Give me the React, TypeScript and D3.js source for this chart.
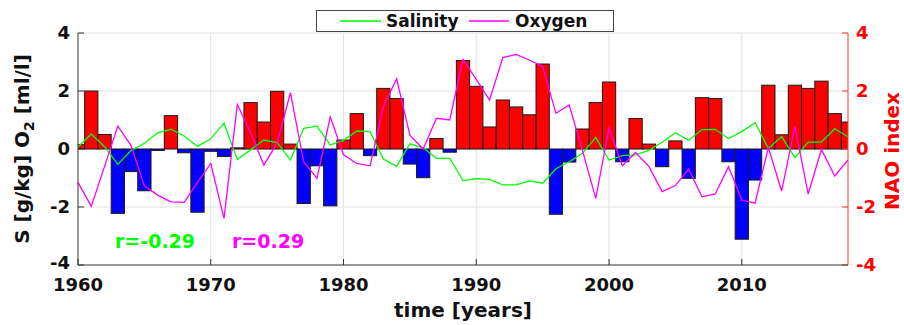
import * as d3 from 'd3'
import React, { useEffect, useRef } from 'react'

const years: number[] = d3.range(1960, 2019)

// NAO index (bars, right axis)
const nao: number[] = [
  0.15, 2.0, 0.5, -2.22, -0.78, -1.44, -0.05, 1.15, -0.13, -2.18,
  -0.08, -0.26, 0.04, 1.6, 0.93, 1.99, 0.17, -1.88, -0.58, -1.96,
  0.31, 1.22, -0.23, 2.09, 1.74, -0.52, -0.99, 0.36, -0.11, 3.05,
  2.16, 0.76, 1.69, 1.45, 1.18, 2.93, -2.25, -0.45, 0.69, 1.6,
  2.31, -0.44, 1.05, 0.17, -0.61, 0.28, -1.01, 1.77, 1.74, -0.44,
  -3.11, -1.07, 2.2, 0.49, 2.2, 2.09, 2.34, 1.22, 0.93
]

// salinity anomaly (green)
const salinity: number[] = [
  0.07, 0.52, 0.08, -0.53, -0.05, 0.2, 0.56, 0.68, 0.45, 0.09,
  0.35, 0.89, -0.36, -0.03, 0.31, 0.22, -0.38, 0.71, 0.79, 0.14,
  0.3, 0.62, 0.6, -0.35, -0.6, 0.18, 0.04, -0.32, -0.32, -1.09,
  -1.02, -1.05, -1.24, -1.24, -1.1, -1.18, -0.68, -0.44, -0.15, 0.4,
  -0.38, -0.23, -0.2, -0.05, 0.23, 0.56, 0.3, 0.67, 0.68, 0.36,
  0.6, 0.91, 0.02, 0.43, -0.3, 0.24, 0.24, 0.7, 0.42
]

// oxygen anomaly (magenta)
const oxygen: number[] = [
  -1.15, -1.98, -0.6, 0.79, 0.12, -1.27, -1.59, -1.82, -1.84, -1.15,
  -0.5, -2.39, 1.54, 0.56, -0.55, 0.2, 1.94, -0.44, -1.01, 1.11,
  -0.2, -0.5, -0.58, 1.46, 2.42, 0.48, 0.0, 1.06, 1.0, 3.09,
  2.4, 1.69, 3.15, 3.26, 3.07, 2.85, 1.23, 1.52, -0.05, -1.7,
  0.73, -0.58, -0.12, -0.6, -1.47, -1.26, -0.69, -1.65, -1.55, -0.61,
  -1.76, -1.87, 0.05, -1.45, 0.78, -1.55, -0.02, -0.93, -0.38
]

const xTicks: number[] = [1960, 1970, 1980, 1990, 2000, 2010]
const yTicks: number[] = [-4, -2, 0, 2, 4]

const FONT = '"DejaVu Sans", sans-serif'
const GREEN = '#00ff00'
const MAGENTA = '#ff00ff'

export default function App() {
  const ref = useRef<SVGSVGElement>(null)

  useEffect(() => {
    const svg = d3.select(ref.current)
    svg.selectAll('*').remove()

    const left = 78
    const right = 848
    const top = 33
    const bottom = 265

    const x = d3.scaleLinear().domain([1960, 2018]).range([left, right])
    const y = d3.scaleLinear().domain([-4, 4]).range([bottom, top])

    svg
      .append('clipPath')
      .attr('id', 'plot-clip')
      .append('rect')
      .attr('x', left)
      .attr('y', top)
      .attr('width', right - left)
      .attr('height', bottom - top)

    //grid
    const grid = svg.append('g').attr('stroke', '#e2e2e2').attr('stroke-width', 1)
    xTicks.slice(1).forEach((t) => {
      grid.append('line').attr('x1', x(t)).attr('x2', x(t)).attr('y1', top).attr('y2', bottom)
    })
    yTicks.slice(1).forEach((t) => {
      grid.append('line').attr('x1', left).attr('x2', right).attr('y1', y(t)).attr('y2', y(t))
    })

    //bars
    const bw = x(1961) - x(1960)
    svg
      .append('g')
      .attr('clip-path', 'url(#plot-clip)')
      .selectAll('rect')
      .data(years)
      .join('rect')
      .attr('x', (d) => x(d) - bw / 2)
      .attr('width', bw)
      .attr('y', (d, i) => y(Math.max(0, nao[i])))
      .attr('height', (d, i) => Math.abs(y(nao[i]) - y(0)))
      .attr('fill', (d, i) => (nao[i] >= 0 ? '#ff0000' : '#0000ff'))
      .attr('stroke', '#1a1a1a')
      .attr('stroke-width', 1)

    //lines
    const line = d3
      .line<number>()
      .x((d, i) => x(years[i]))
      .y((d) => y(d))

    svg
      .append('path')
      .attr('d', line(salinity))
      .attr('fill', 'none')
      .attr('stroke', GREEN)
      .attr('stroke-width', 1.3)

    svg
      .append('path')
      .attr('d', line(oxygen))
      .attr('fill', 'none')
      .attr('stroke', MAGENTA)
      .attr('stroke-width', 1.3)

    //left axis
    const axL = svg.append('g')
    axL.append('line').attr('x1', left).attr('x2', left).attr('y1', top).attr('y2', bottom).attr('stroke', '#333')
    yTicks.forEach((t) => {
      axL.append('line').attr('x1', left).attr('x2', left + 6).attr('y1', y(t)).attr('y2', y(t)).attr('stroke', '#333')
      axL
        .append('text')
        .attr('x', left - 8)
        .attr('y', y(t))
        .attr('dy', t === -4 ? '0.2em' : '0.36em')
        .attr('text-anchor', 'end')
        .attr('font-family', FONT)
        .attr('font-weight', 'bold')
        .attr('font-size', 18)
        .attr('fill', '#111')
        .text(t)
    })

    //right axis
    const axR = svg.append('g')
    axR.append('line').attr('x1', right).attr('x2', right).attr('y1', top).attr('y2', bottom).attr('stroke', '#ff3333')
    yTicks.forEach((t) => {
      axR.append('line').attr('x1', right - 6).attr('x2', right).attr('y1', y(t)).attr('y2', y(t)).attr('stroke', '#ff3333')
      axR
        .append('text')
        .attr('x', right + 8)
        .attr('y', y(t))
        .attr('dy', '0.36em')
        .attr('font-family', FONT)
        .attr('font-weight', 'bold')
        .attr('font-size', 18)
        .attr('fill', '#ff0000')
        .text(t)
    })

    //bottom axis
    const axB = svg.append('g')
    axB.append('line').attr('x1', left).attr('x2', right).attr('y1', bottom).attr('y2', bottom).attr('stroke', '#333')
    xTicks.forEach((t) => {
      axB.append('line').attr('x1', x(t)).attr('x2', x(t)).attr('y1', bottom).attr('y2', bottom - 6).attr('stroke', '#333')
      axB
        .append('text')
        .attr('x', x(t))
        .attr('y', 291)
        .attr('text-anchor', 'middle')
        .attr('font-family', FONT)
        .attr('font-weight', 'bold')
        .attr('font-size', 18)
        .attr('fill', '#111')
        .text(t)
    })

    //axis titles
    svg
      .append('text')
      .attr('x', (left + right) / 2)
      .attr('y', 317)
      .attr('text-anchor', 'middle')
      .attr('font-family', FONT)
      .attr('font-weight', 'bold')
      .attr('font-size', 20)
      .attr('fill', '#111')
      .text('time [years]')

    const yl = svg
      .append('text')
      .attr('transform', `translate(29,${(top + bottom) / 2}) rotate(-90)`)
      .attr('text-anchor', 'middle')
      .attr('font-family', FONT)
      .attr('font-weight', 'bold')
      .attr('font-size', 20)
      .attr('fill', '#111')
    yl.append('tspan').text('S [g/kg] O')
    yl.append('tspan').attr('font-size', 14).attr('dy', 5).text('2')
    yl.append('tspan').attr('dy', -5).text(' [ml/l]')

    svg
      .append('text')
      .attr('transform', `translate(899,${(top + bottom) / 2 + 2}) rotate(-90)`)
      .attr('text-anchor', 'middle')
      .attr('font-family', FONT)
      .attr('font-weight', 'bold')
      .attr('font-size', 20)
      .attr('fill', '#ff0000')
      .text('NAO index')

    //correlations
    svg
      .append('text')
      .attr('x', 115)
      .attr('y', 248)
      .attr('font-family', FONT)
      .attr('font-weight', 'bold')
      .attr('font-size', 19)
      .attr('fill', GREEN)
      .text('r=-0.29')
    svg
      .append('text')
      .attr('x', 232)
      .attr('y', 248)
      .attr('font-family', FONT)
      .attr('font-weight', 'bold')
      .attr('font-size', 19)
      .attr('fill', MAGENTA)
      .text('r=0.29')

    //legend
    const lg = svg.append('g')
    lg.append('rect')
      .attr('x', 316.5)
      .attr('y', 10.5)
      .attr('width', 297)
      .attr('height', 21)
      .attr('fill', 'white')
      .attr('stroke', '#444')
    lg.append('line').attr('x1', 340).attr('x2', 381).attr('y1', 21).attr('y2', 21).attr('stroke', GREEN).attr('stroke-width', 1.3)
    lg.append('text')
      .attr('x', 386)
      .attr('y', 27)
      .attr('font-family', FONT)
      .attr('font-weight', 'bold')
      .attr('font-size', 17)
      .attr('fill', '#111')
      .text('Salinity')
    lg.append('line').attr('x1', 469).attr('x2', 509).attr('y1', 21).attr('y2', 21).attr('stroke', MAGENTA).attr('stroke-width', 1.3)
    lg.append('text')
      .attr('x', 515)
      .attr('y', 27)
      .attr('font-family', FONT)
      .attr('font-weight', 'bold')
      .attr('font-size', 17)
      .attr('fill', '#111')
      .text('Oxygen')
  }, [ref])

  return (
    <svg
      ref={ref}
      width={904}
      height={325}
      style={{ position: 'absolute', left: 0, top: 0, background: 'white' }}
    />
  )
}
